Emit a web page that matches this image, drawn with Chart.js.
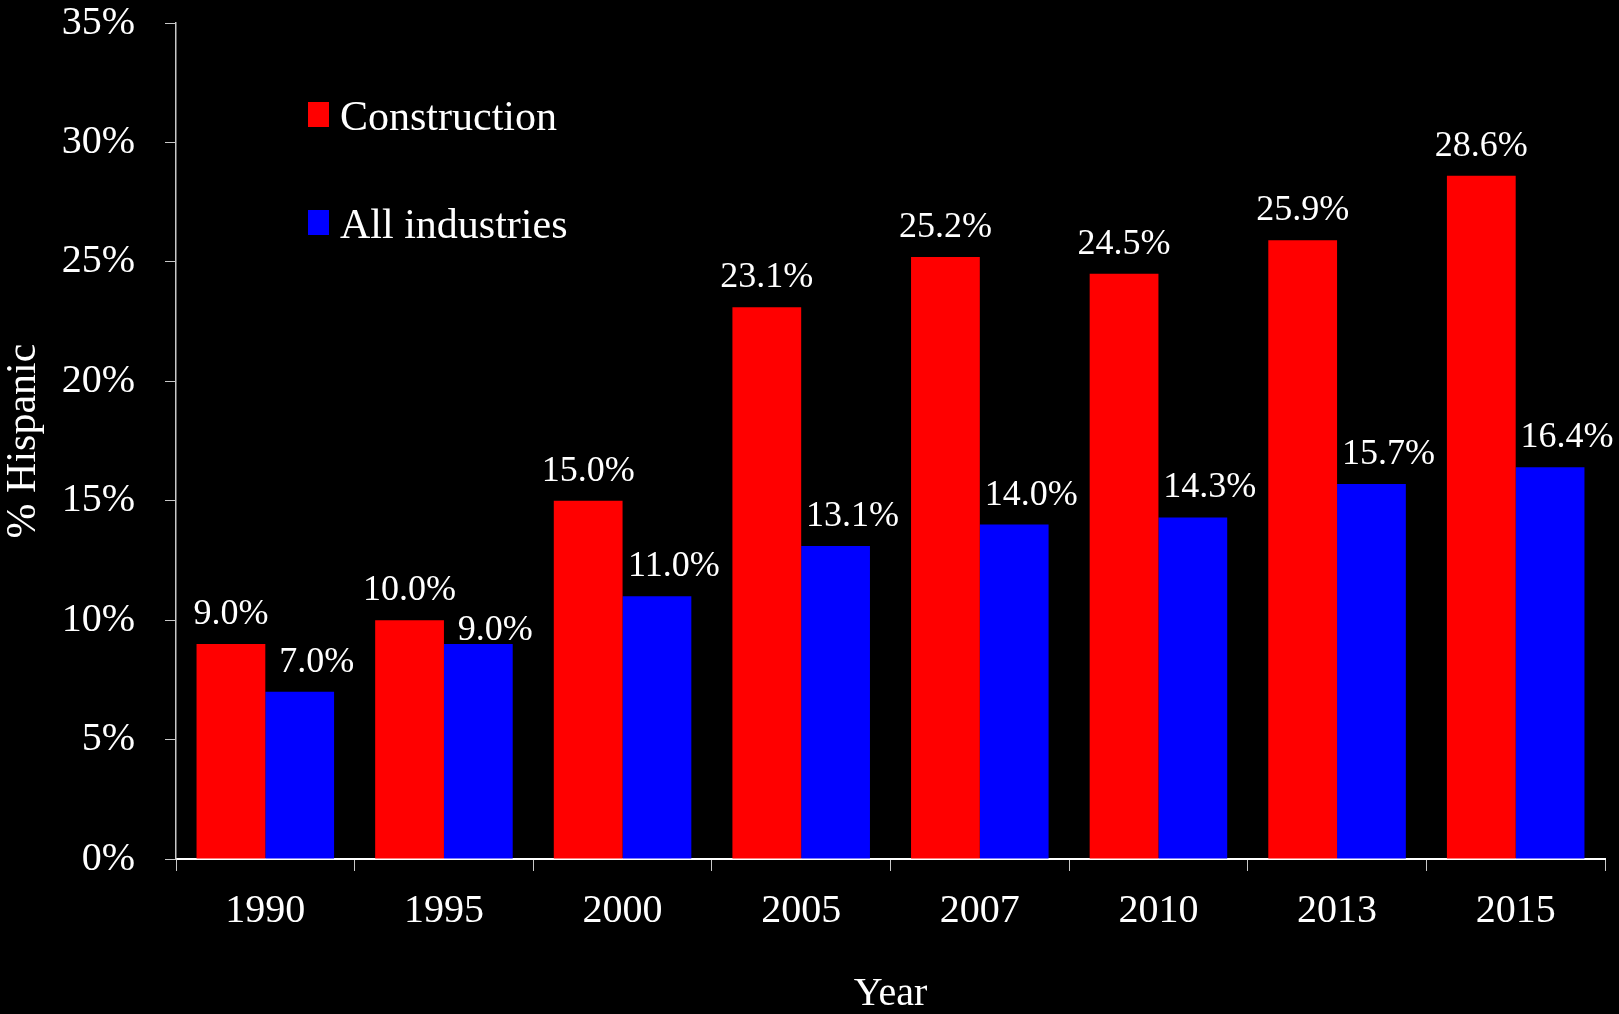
<!DOCTYPE html>
<html>
<head>
<meta charset="utf-8">
<script src="https://cdn.jsdelivr.net/npm/chart.js@4/dist/chart.umd.min.js"></script>
<style>
    html, body { margin: 0; padding: 0; background: #000; }
    #wrap { width: 1619px; height: 1014px; }
</style>
</head>
<body>
<div id="wrap"><canvas id="hispanicChart" width="1619" height="1014"></canvas></div>
<script>
var years = ["1990", "1995", "2000", "2005", "2007", "2010", "2013", "2015"];
var construction = [9.0, 10.0, 15.0, 23.1, 25.2, 24.5, 25.9, 28.6];
var allIndustries = [7.0, 9.0, 11.0, 13.1, 14.0, 14.3, 15.7, 16.4];
var seriesNames = ["Construction", "All industries"];

var serif = "'Liberation Serif', 'Times New Roman', serif";

// value labels above each bar
var barLabels = {
    id: 'barLabels',
    afterDatasetsDraw: function(chart) {
        var ctx = chart.ctx;
        ctx.save();
        ctx.font = "36px " + serif;
        ctx.fillStyle = "#fff";
        ctx.textAlign = "center";
        ctx.textBaseline = "alphabetic";
        chart.data.datasets.forEach(function(ds, di) {
            var meta = chart.getDatasetMeta(di);
            meta.data.forEach(function(bar, i) {
                var dx = di === 1 ? 17 : 0;
                var lift = 20;
                // 1995 all-industries label sits low so it clears the 10.0% label
                if (di === 1 && i === 1) lift = 4;
                ctx.fillText(ds.data[i].toFixed(1) + "%", bar.x + dx, bar.y - lift);
            });
        });
        ctx.restore();
    }
};

// legend drawn inside the plot, top left
var innerLegend = {
    id: 'innerLegend',
    afterDraw: function(chart) {
        var ctx = chart.ctx;
        var x = chart.chartArea.left + 132;
        ctx.save();
        ctx.font = "42px " + serif;
        ctx.textBaseline = "alphabetic";
        ctx.textAlign = "left";
        chart.data.datasets.forEach(function(ds, di) {
            var base = 130 + di * 108;
            ctx.fillStyle = ds.backgroundColor;
            ctx.fillRect(x, base - 28, 21, 25);
            ctx.fillStyle = "#fff";
            ctx.fillText(ds.label, x + 32, base);
        });
        ctx.restore();
    }
};

new Chart(document.getElementById("hispanicChart"), {
    type: 'bar',
    data: {
        labels: years,
        datasets: [{
            label: seriesNames[0],
            data: construction,
            backgroundColor: "#FF0000",
            categoryPercentage: 0.77,
            barPercentage: 1.0
        }, {
            label: seriesNames[1],
            data: allIndustries,
            backgroundColor: "#0000FF",
            categoryPercentage: 0.77,
            barPercentage: 1.0
        }]
    },
    options: {
        responsive: false,
        animation: false,
        layout: { padding: { left: 0, right: 14, top: 23, bottom: 0 } },
        plugins: {
            legend: { display: false },
            tooltip: { enabled: false }
        },
        scales: {
            x: {
                grid: {
                    drawOnChartArea: false,
                    offset: true,
                    tickLength: 12,
                    color: "#c8c8c8"
                },
                border: { color: "#ffffff", width: 2 },
                ticks: {
                    color: "#fff",
                    padding: 16,
                    maxRotation: 0,
                    font: { family: serif, size: 40 }
                },
                title: {
                    display: true,
                    text: "Year",
                    color: "#fff",
                    padding: { top: 0, bottom: 0 },
                    font: { family: serif, size: 40, lineHeight: 1 }
                },
                afterFit: function(scale) { scale.height = 155; }
            },
            y: {
                min: 0,
                max: 35,
                grid: {
                    drawOnChartArea: false,
                    tickLength: 11,
                    color: "#c8c8c8"
                },
                border: { color: "#c8c8c8", width: 1.5 },
                ticks: {
                    stepSize: 5,
                    color: "#fff",
                    padding: 30,
                    font: { family: serif, size: 40 },
                    callback: function(v) { return v + "%"; }
                },
                title: {
                    display: true,
                    text: "% Hispanic",
                    color: "#fff",
                    padding: { top: 3, bottom: 0 },
                    font: { family: serif, size: 42, lineHeight: 1 }
                },
                afterFit: function(scale) {
                    scale.width = 176;
                    scale.paddingTop = 0;
                    scale.paddingBottom = 0;
                }
            }
        }
    },
    plugins: [barLabels, innerLegend]
});
</script>
</body>
</html>
